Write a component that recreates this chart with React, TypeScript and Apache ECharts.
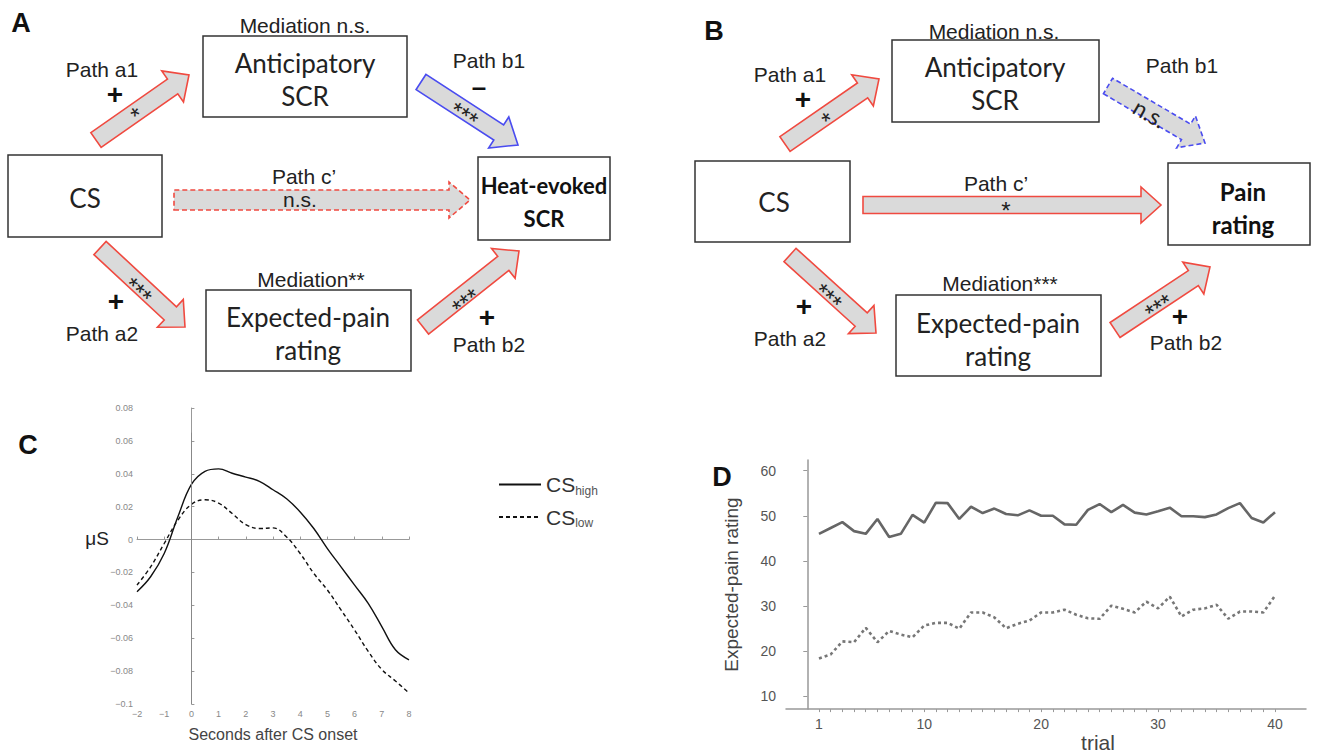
import React, { useEffect, useRef } from "react";
import * as echarts from "echarts";

// ---- Panel C data (SCR time course) ----
const cTime = [-2, -1.5, -1, -0.5, 0, 0.5, 1, 1.5, 2, 2.5, 3, 3.5, 4, 4.5, 5, 5.5, 6, 6.5, 7, 7.5, 8];
const cHigh = [-0.0317, -0.0226, -0.0085, 0.0137, 0.0335, 0.0415, 0.043, 0.0403, 0.038, 0.0354, 0.0303, 0.0248, 0.0168, 0.0067, -0.0055, -0.0166, -0.0277, -0.0388, -0.0529, -0.067, -0.0731];
const cLow = [-0.0277, -0.0166, -0.0024, 0.0117, 0.0214, 0.0242, 0.0222, 0.0158, 0.0091, 0.0067, 0.0071, 0.0016, -0.0085, -0.0206, -0.0307, -0.0428, -0.055, -0.068, -0.079, -0.086, -0.0933];
const cYTicks = [-0.1, -0.08, -0.06, -0.04, -0.02, 0, 0.02, 0.04, 0.06, 0.08];
const cOnsetLine = [0, -0.1, 0.065];

// ---- Panel D data (expected-pain rating per trial) ----
const trials = [1, 2, 3, 4, 5, 6, 7, 8, 9, 10, 11, 12, 13, 14, 15, 16, 17, 18, 19, 20, 21, 22, 23, 24, 25, 26, 27, 28, 29, 30, 31, 32, 33, 34, 35, 36, 37, 38, 39, 40];
const dHigh = [46.0, 47.3, 48.6, 46.6, 46.0, 49.3, 45.3, 46.0, 50.2, 48.5, 52.9, 52.8, 49.3, 52.0, 50.6, 51.6, 50.4, 50.1, 51.2, 50.0, 50.0, 48.1, 48.0, 51.3, 52.6, 50.8, 52.4, 50.7, 50.3, 51.0, 51.8, 49.9, 49.9, 49.7, 50.3, 51.7, 52.8, 49.5, 48.5, 50.8];
const dLow = [18.4, 19.3, 22.2, 22.0, 25.2, 22.0, 24.5, 23.7, 23.1, 25.7, 26.3, 26.3, 25.0, 28.6, 28.6, 27.5, 25.1, 26.1, 26.8, 28.6, 28.6, 29.2, 28.1, 27.3, 27.2, 30.1, 29.4, 28.6, 31.0, 29.5, 32.1, 27.7, 29.2, 29.5, 30.3, 27.2, 28.8, 28.8, 28.6, 32.3];
const dXLabels = [1, 10, 20, 30, 40];
const dYTicks = [10, 20, 30, 40, 50, 60];

const RED = "#f04a40";
const BLUE = "#4a4cf0";
const FILL = "#dadada";

function arrow(tail: number[], tip: number[], sw: number, hw: number, hl: number, color: string, dashed: boolean) {
  const dx = tip[0] - tail[0];
  const dy = tip[1] - tail[1];
  const L = Math.sqrt(dx * dx + dy * dy);
  const ux = dx / L, uy = dy / L;
  const nx = -uy, ny = ux;
  const neck = [tip[0] - ux * hl, tip[1] - uy * hl];
  const p = (b: number[], k: number) => [b[0] + nx * k, b[1] + ny * k];
  const pts = [p(tail, sw / 2), p(neck, sw / 2), p(neck, hw / 2), tip, p(neck, -hw / 2), p(neck, -sw / 2), p(tail, -sw / 2)];
  return {
    type: "polygon",
    shape: { points: pts },
    style: { fill: FILL, stroke: color, lineWidth: 1.6, lineDash: dashed ? [5, 3] : null },
  };
}

function txt(s: string, x: number, y: number, size: number, opts: any = {}) {
  return {
    type: "text",
    x,
    y,
    rotation: ((opts.rot || 0) * Math.PI) / 180,
    style: {
      text: s,
      fontSize: size,
      fontFamily: opts.family || "Liberation Sans",
      fontWeight: opts.bold ? "bold" : "normal",
      fill: opts.color || "#222",
      align: "center",
      verticalAlign: "middle",
      textAlign: "center",
      textVerticalAlign: "middle",
    },
  };
}

function box(x: number, y: number, w: number, h: number) {
  return { type: "rect", shape: { x, y, width: w, height: h }, style: { fill: "#fff", stroke: "#333", lineWidth: 1.5 } };
}

const BOXF = "Lato";
const STAR = { rot: 0, color: "#222" };

function diagramA(): any[] {
  return [
    txt("A", 21, 23, 27, { bold: true, color: "#111" }),
    box(203, 36, 204, 81),
    box(8, 155, 154, 82),
    box(478, 157, 132, 83),
    box(206, 290, 205, 81),
    txt("Mediation n.s.", 305, 25, 21),
    txt("Anticipatory", 305, 63, 26, { family: BOXF }),
    txt("SCR", 305, 96, 26, { family: BOXF }),
    txt("CS", 85, 198, 26, { family: BOXF }),
    txt("Heat-evoked", 544, 185, 22, { family: BOXF, bold: true, color: "#111" }),
    txt("SCR", 544, 218, 22, { family: BOXF, bold: true, color: "#111" }),
    txt("Expected-pain", 308, 317, 26, { family: BOXF }),
    txt("rating", 308, 350, 26, { family: BOXF }),
    arrow([96, 140], [189, 75], 18, 38, 20, RED, false),
    arrow([421, 82], [518, 145], 18, 37, 23, BLUE, false),
    arrow([174, 200], [470, 200], 20, 36, 21, RED, true),
    arrow([100, 248], [185, 327], 18, 38, 20, RED, false),
    arrow([423, 327], [519, 251], 18, 38, 20, RED, false),
    txt("*", 137, 115, 24, { ...STAR, rot: 35 }),
    txt("***", 464, 115, 24, { ...STAR, rot: -33 }),
    txt("***", 138, 291, 24, { ...STAR, rot: -42 }),
    txt("***", 466, 302, 24, { ...STAR, rot: 38 }),
    txt("Path a1", 102, 69, 21),
    txt("+", 115, 94, 28, { bold: true, color: "#111" }),
    txt("Path b1", 489, 60, 21),
    txt("–", 479, 87, 26, { bold: true, color: "#111" }),
    txt("Path c’", 304, 176, 21),
    txt("n.s.", 300, 199, 21),
    txt("Mediation**", 311, 279, 21),
    txt("+", 116, 301, 28, { bold: true, color: "#111" }),
    txt("Path a2", 102, 333, 21),
    txt("+", 487, 317, 28, { bold: true, color: "#111" }),
    txt("Path b2", 489, 344, 21),
  ];
}

function diagramB(): any[] {
  return [
    txt("B", 714, 31, 27, { bold: true, color: "#111" }),
    box(892, 40, 207, 82),
    box(695, 161, 155, 81),
    box(1168, 163, 142, 82),
    box(896, 295, 205, 81),
    txt("Mediation n.s.", 994, 31, 21),
    txt("Anticipatory", 995, 67, 26, { family: BOXF }),
    txt("SCR", 995, 100, 26, { family: BOXF }),
    txt("CS", 774, 202, 26, { family: BOXF }),
    txt("Pain", 1243, 191, 24, { family: BOXF, bold: true, color: "#111" }),
    txt("rating", 1243, 224, 24, { family: BOXF, bold: true, color: "#111" }),
    txt("Expected-pain", 998, 323, 26, { family: BOXF }),
    txt("rating", 998, 356, 26, { family: BOXF }),
    arrow([785, 144], [879, 79], 18, 38, 20, RED, false),
    arrow([1108, 86], [1205, 143], 18, 37, 22, BLUE, true),
    arrow([863, 205], [1161, 205], 17, 36, 20, RED, false),
    arrow([790, 255], [876, 333], 18, 38, 20, RED, false),
    arrow([1115, 330], [1210, 267], 18, 38, 20, RED, false),
    txt("*", 828, 120, 24, { ...STAR, rot: 35 }),
    txt("n.s.", 1150, 113, 23, { family: BOXF, rot: -30 }),
    txt("*", 1006, 210, 24, STAR),
    txt("***", 828, 297, 24, { ...STAR, rot: -42 }),
    txt("***", 1159, 307, 24, { ...STAR, rot: 34 }),
    txt("Path a1", 790, 74, 21),
    txt("+", 803, 99, 28, { bold: true, color: "#111" }),
    txt("Path b1", 1182, 65, 21),
    txt("Path c’", 996, 183, 21),
    txt("Mediation***", 1000, 283, 21),
    txt("+", 804, 306, 28, { bold: true, color: "#111" }),
    txt("Path a2", 790, 338, 21),
    txt("+", 1180, 316, 28, { bold: true, color: "#111" }),
    txt("Path b2", 1186, 342, 21),
  ];
}

const fmtC = (v: number) => {
  const r = +v.toFixed(2);
  return r === 0 ? "0" : String(r).replace("-", "−");
};

export default function App() {
  const ref = useRef<HTMLDivElement>(null);
  useEffect(() => {
    if (!ref.current) return;
    const chart = echarts.init(ref.current, null, { renderer: "svg" });
    const option: any = {
      animation: false,
      backgroundColor: "#fff",
      textStyle: { fontFamily: "Liberation Sans" },
      legend: {
        data: ["CS high", "CS low"],
        orient: "vertical",
        left: 493,
        top: 469,
        itemWidth: 42,
        itemHeight: 12,
        itemGap: 10,
        itemStyle: { opacity: 0 },
        formatter: (name: string) => (name === "CS high" ? "{a|CS}{b|high}" : "{a|CS}{b|low}"),
        textStyle: {
          rich: {
            a: { fontSize: 21, color: "#333", fontFamily: "Liberation Sans", lineHeight: 24 },
            b: { fontSize: 12, color: "#555", fontFamily: "Liberation Sans", verticalAlign: "bottom", lineHeight: 14 },
          },
        },
      },
      grid: [
        { left: 137, right: 916, top: 408, bottom: 50 },
        { left: 786, right: 19, top: 460, bottom: 43 },
      ],
      xAxis: [
        {
          gridIndex: 0,
          type: "value",
          min: -2,
          max: 8,
          interval: 1,
          axisLine: { lineStyle: { color: "#999", width: 1 } },
          axisTick: { inside: true, length: 3, lineStyle: { color: "#999" } },
          axisLabel: { fontSize: 9, color: "#888", margin: 5, formatter: fmtC },
          splitLine: { show: false },
          name: "Seconds after CS onset",
          nameLocation: "middle",
          nameGap: 22,
          nameTextStyle: { fontSize: 16, color: "#444" },
        },
        {
          gridIndex: 1,
          type: "value",
          min: -1.82,
          max: 42.65,
          axisLine: { lineStyle: { color: "#999", width: 1.5 } },
          axisTick: { customValues: trials, length: 3, lineStyle: { color: "#999" } },
          axisLabel: { customValues: dXLabels, fontSize: 14, color: "#555", margin: 8 },
          splitLine: { show: false },
          name: "trial",
          nameLocation: "middle",
          nameGap: 18,
          nameTextStyle: { fontSize: 21, color: "#444", padding: [0, 0, 0, 104] },
        },
      ],
      yAxis: [
        {
          gridIndex: 0,
          type: "value",
          min: -0.1,
          max: 0.08,
          axisLine: { show: true, lineStyle: { color: "#999", width: 1 } },
          axisTick: { show: true, inside: true, length: 3, customValues: cYTicks, lineStyle: { color: "#999" } },
          axisLabel: { customValues: cYTicks, fontSize: 9, color: "#888", margin: 4, formatter: fmtC },
          splitLine: { show: false },
        },
        {
          gridIndex: 1,
          type: "value",
          min: 7.2,
          max: 62.35,
          axisLine: { show: true, lineStyle: { color: "#999", width: 1.5 } },
          axisTick: { show: true, length: 4, customValues: dYTicks, lineStyle: { color: "#999" } },
          axisLabel: { customValues: dYTicks, fontSize: 14, color: "#555", margin: 10 },
          splitLine: { show: false },
          name: "Expected-pain rating",
          nameLocation: "middle",
          nameGap: 45,
          nameTextStyle: { fontSize: 19, color: "#444" },
        },
      ],
      series: [
        {
          name: "CS high",
          type: "line",
          xAxisIndex: 0,
          yAxisIndex: 0,
          data: cTime.map((t, i) => [t, cHigh[i]]),
          smooth: 0.4,
          symbol: "none",
          lineStyle: { color: "#111", width: 1.4 },
          itemStyle: { color: "#111" },
          markLine: {
            silent: true,
            symbol: ["none", "none"],
            label: { show: false },
            lineStyle: { color: "#888", width: 1, type: "solid" },
            data: [[{ coord: [cOnsetLine[0], cOnsetLine[1]] }, { coord: [cOnsetLine[0], cOnsetLine[2]] }]],
          },
        },
        {
          name: "CS low",
          type: "line",
          xAxisIndex: 0,
          yAxisIndex: 0,
          data: cTime.map((t, i) => [t, cLow[i]]),
          smooth: 0.4,
          symbol: "none",
          lineStyle: { color: "#111", width: 1.4, type: [4, 3] },
          itemStyle: { color: "#111" },
        },
        {
          name: "CS high rating",
          type: "line",
          xAxisIndex: 1,
          yAxisIndex: 1,
          data: trials.map((t, i) => [t, dHigh[i]]),
          symbol: "none",
          lineStyle: { color: "#666", width: 2.6 },
        },
        {
          name: "CS low rating",
          type: "line",
          xAxisIndex: 1,
          yAxisIndex: 1,
          data: trials.map((t, i) => [t, dLow[i]]),
          symbol: "none",
          lineStyle: { color: "#777", width: 2.6, type: [3, 3] },
        },
      ],
      graphic: [
        ...diagramA(),
        ...diagramB(),
        txt("C", 28, 445, 27, { bold: true, color: "#111" }),
        txt("D", 722, 477, 27, { bold: true, color: "#111" }),
        txt("μS", 97, 538, 19, { color: "#222" }),
      ],
    };
    chart.setOption(option);
    return () => chart.dispose();
  }, []);
  return <div ref={ref} style={{ position: "absolute", left: 0, top: 0, width: 1325, height: 754 }} />;
}
